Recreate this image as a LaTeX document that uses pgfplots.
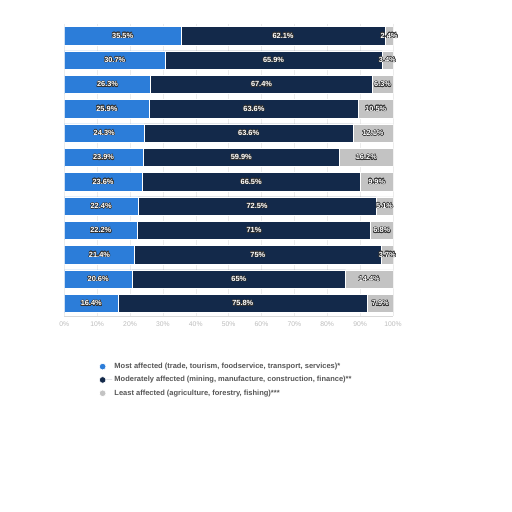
\documentclass[border=0pt]{standalone}
\usepackage{pgfplots}
\pgfplotsset{compat=1.18}
\usepackage{fontspec}
\setmainfont{Liberation Sans}
\usepackage[copies]{contour}
\contourlength{0.5pt}
\contournumber{16}
\definecolor{mostc}{HTML}{2C7DD9}
\definecolor{modc}{HTML}{13294A}
\definecolor{leastc}{HTML}{C3C3C3}
\definecolor{tickc}{HTML}{BBBBBB}
\definecolor{legc}{HTML}{555555}

\begin{document}
\begin{tikzpicture}
\useasboundingbox (0,0) rectangle (512bp,512bp);
\begin{axis}[
    at={(64.3bp,196.3bp)}, anchor=south west,
    scale only axis,
    width=329.0bp, height=292bp,
    xbar stacked,
    bar width=18.5bp,
    xmin=0, xmax=100.1,
    ymin=-0.5, ymax=11.5,
    y dir=reverse,
    axis x line*=bottom,
    axis y line=none,
    x axis line style={draw=gray!30},
    xtick={0,10,...,100},
    xticklabel={\pgfmathprintnumber{\tick}\%},
    xticklabel style={text=tickc, font=\fontsize{6.8bp}{7bp}\selectfont, yshift=-3bp},
    /pgf/number format/assume math mode=true,
    major tick length=0pt,
    xmajorgrids,
    grid style={draw=gray!15, line width=0.5bp},
    ytick=\empty,
    point meta=explicit,
    nodes near coords={\contour{black!80}{\textcolor{white}{\pgfmathprintnumber{\pgfplotspointmeta}\%}}},
    nodes near coords style={font=\fontsize{7.4bp}{8bp}\selectfont\bfseries, anchor=center},
    legend image code/.code={\path (0bp,0bp) -- (9.5bp,0bp);\fill[#1] (0bp,0bp) circle (3.3bp);},
    legend style={at={(0.105,-0.155)}, anchor=north west, draw=none, fill=none,
        font=\fontsize{7.5bp}{8.5bp}\selectfont\bfseries, text=legc,
        row sep=2.4bp, inner sep=0pt},
    legend cell align=left,
]
\addplot[fill=mostc, draw=white, line width=0.6bp] coordinates {
    (35.5,0) [35.5] (30.7,1) [30.7] (26.3,2) [26.3] (25.9,3) [25.9]
    (24.3,4) [24.3] (23.9,5) [23.9] (23.6,6) [23.6] (22.4,7) [22.4]
    (22.2,8) [22.2] (21.4,9) [21.4] (20.6,10) [20.6] (16.4,11) [16.4]
};
\addlegendentry{Most affected (trade, tourism, foodservice, transport, services)*}
\addplot[fill=modc, draw=white, line width=0.6bp] coordinates {
    (62.1,0) [62.1] (65.9,1) [65.9] (67.4,2) [67.4] (63.6,3) [63.6]
    (63.6,4) [63.6] (59.9,5) [59.9] (66.5,6) [66.5] (72.5,7) [72.5]
    (71,8) [71] (75,9) [75] (65,10) [65] (75.8,11) [75.8]
};
\addlegendentry{Moderately affected (mining, manufacture, construction, finance)**}
\addplot[fill=leastc, draw=white, line width=0.6bp] coordinates {
    (2.4,0) [2.4] (3.4,1) [3.4] (6.3,2) [6.3] (10.5,3) [10.5]
    (12.1,4) [12.1] (16.2,5) [16.2] (9.9,6) [9.9] (5.1,7) [5.1]
    (6.8,8) [6.8] (3.7,9) [3.7] (14.4,10) [14.4] (7.9,11) [7.9]
};
\addlegendentry{Least affected (agriculture, forestry, fishing)***}
\end{axis}
\end{tikzpicture}
\end{document}
